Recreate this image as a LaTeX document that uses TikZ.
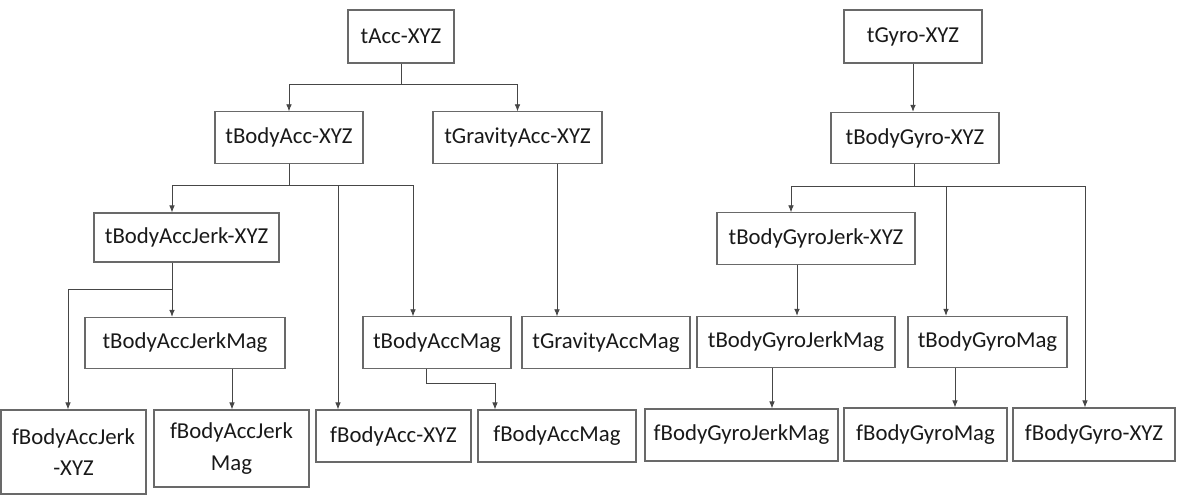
\documentclass[tikz,border=0pt]{standalone}
\usepackage{fontspec}
\setmainfont{Carlito}
\usepackage{tikz}
\usepackage{xcolor}
\usetikzlibrary{arrows.meta,positioning,calc}
\definecolor{BoxGray}{RGB}{105,105,105}
\definecolor{LineGray}{RGB}{70,70,70}
\definecolor{TextGray}{RGB}{25,25,25}

\begin{document}
\begin{tikzpicture}[x=0.025cm, y=-0.025cm, every node/.style={font=\fontsize{16.2}{22.5}\selectfont, text=TextGray}, box/.style={draw=BoxGray, line width=0.8pt, inner sep=0pt, align=center, minimum height=1.28cm}, link/.style={-{Latex[length=5pt,width=4pt]}, draw=LineGray, line width=0.6pt}]
\useasboundingbox (0,0) rectangle (1185,496);
\node[box, minimum width=2.65cm, minimum height=1.325cm] (tacc) at (401,36.5) {tAcc-XYZ};
\node[box, minimum width=3.7cm] (tbodyacc) at (289,137.5) {tBodyAcc-XYZ};
\node[box, minimum width=4.225cm] (tgravacc) at (517.5,137.5) {tGravityAcc-XYZ};
\node[box, minimum width=4.625cm, minimum height=1.225cm] (tbodyaccjerk) at (186.5,237.5) {tBodyAccJerk-XYZ};
\node[box, minimum width=5cm] (tbodyaccjerkmag) at (185,343) {tBodyAccJerkMag};
\node[box, minimum width=3.7cm] (tbodyaccmag) at (437,342.5) {tBodyAccMag};
\node[box, minimum width=4.2cm] (tgravaccmag) at (606,342.5) {tGravityAccMag};
\node[box, minimum width=3.625cm, minimum height=2.1cm] (fbodyaccjerk) at (73.5,452) {fBodyAccJerk\\-XYZ};
\node[box, minimum width=3.875cm, minimum height=1.925cm] (fbodyaccjerkmag) at (231.5,448.5) {fBodyAccJerk\\Mag};
\node[box, minimum width=3.875cm, minimum height=1.3cm] (fbodyacc) at (393.5,436) {fBodyAcc-XYZ};
\node[box, minimum width=3.95cm, minimum height=1.3cm] (fbodyaccmag) at (557,436) {fBodyAccMag};
\node[box, minimum width=3.45cm, minimum height=1.325cm] (tgyro) at (913,36.5) {tGyro-XYZ};
\node[box, minimum width=4.2cm] (tbodygyro) at (915,138) {tBodyGyro-XYZ};
\node[box, minimum width=4.95cm] (tbodygyrojerk) at (816,238.5) {tBodyGyroJerk-XYZ};
\node[box, minimum width=4.95cm] (tbodygyrojerkmag) at (796,342) {tBodyGyroJerkMag};
\node[box, minimum width=3.975cm] (tbodygyromag) at (987.5,342) {tBodyGyroMag};
\node[box, minimum width=4.825cm, minimum height=1.3cm] (fbodygyrojerkmag) at (741.5,435) {fBodyGyroJerkMag};
\node[box, minimum width=4.075cm, minimum height=1.325cm] (fbodygyromag) at (925.5,434.5) {fBodyGyroMag};
\node[box, minimum width=4.05cm, minimum height=1.325cm] (fbodygyro) at (1094,434.5) {fBodyGyro-XYZ};

\draw[link] (tacc.south) -- ++(0,21) -| (tbodyacc.north);
\draw[link] (tacc.south) -- ++(0,21) -| (tgravacc.north);
\draw[link] (tbodyacc.south) -- ++(0,22) -| (tbodyaccjerk.north -| 172,0);
\draw[link] (tbodyacc.south) -- ++(0,22) -| (fbodyacc.north -| 338,0);
\draw[link] (tbodyacc.south) -- ++(0,22) -| (tbodyaccmag.north -| 413,0);
\draw[link] (tgravacc.south -| 557,0) -- (tgravaccmag.north -| 557,0);
\draw[link] (tbodyaccjerk.south -| 172,0) -- (tbodyaccjerkmag.north -| 172,0);
\draw[link] (tbodyaccjerk.south -| 172,0) -- ++(0,27) -| (fbodyaccjerk.north -| 68,0);
\draw[link] (tbodyaccjerkmag.south -| 232,0) -- (fbodyaccjerkmag.north -| 232,0);
\draw[link] (tbodyaccmag.south -| 426,0) -- ++(0,15) -| (fbodyaccmag.north -| 495,0);
\draw[link] (tgyro.south -| 913,0) -- (tbodygyro.north -| 913,0);
\draw[link] (tbodygyro.south -| 914,0) -- ++(0,22) -| (tbodygyrojerk.north -| 791,0);
\draw[link] (tbodygyro.south -| 914,0) -- ++(0,22) -| (tbodygyromag.north -| 946,0);
\draw[link] (tbodygyro.south -| 914,0) -- ++(0,22) -| (fbodygyro.north -| 1085,0);
\draw[link] (tbodygyrojerk.south -| 797,0) -- (tbodygyrojerkmag.north -| 797,0);
\draw[link] (tbodygyrojerkmag.south -| 772,0) -- (fbodygyrojerkmag.north -| 772,0);
\draw[link] (tbodygyromag.south -| 955,0) -- (fbodygyromag.north -| 955,0);
\end{tikzpicture}
\end{document}
